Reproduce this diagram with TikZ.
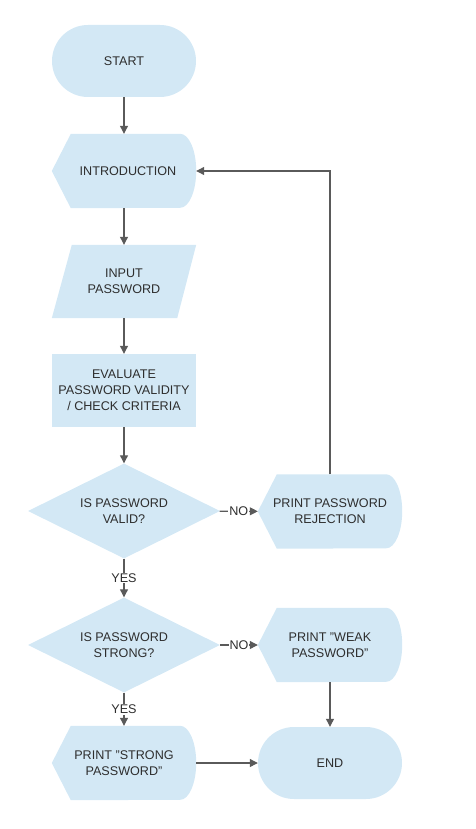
\documentclass[tikz,border=0pt]{standalone}
\usepackage{fontspec}
\setmainfont{Liberation Sans}
\usetikzlibrary{arrows.meta,shapes.geometric,backgrounds}
\definecolor{boxc}{HTML}{D3E8F5}
\definecolor{linec}{HTML}{5A5A5A}
\definecolor{textc}{HTML}{2E2E2E}

\tikzset{
  boxbase/.style={minimum width=144pt, minimum height=73pt, inner sep=0pt, align=center, text=textc},
  termbox/.style={boxbase, fill=boxc, rounded corners=36pt, minimum height=72pt},
  procbox/.style={boxbase, fill=boxc},
  dispbox/.style={boxbase, minimum height=74pt},
  iobox/.style={boxbase},
  decide/.style={diamond, aspect=2, fill=boxc, minimum width=192pt, minimum height=95pt, inner sep=0pt, align=center, text=textc},
  flow/.style={linec, line width=1.1pt, -{Triangle[length=8pt, width=8pt]}},
  lbl/.style={fill=white, inner sep=1pt, text=textc}
}

% display shape: pointed left side, round right side
\newcommand{\dispfill}[1]{%
  \fill[boxc] (#1.west) -- ([xshift=19pt]#1.north west) -- ([xshift=-16pt]#1.north east)
    arc[start angle=90, end angle=-90, x radius=16pt, y radius=37pt]
    -- ([xshift=19pt]#1.south west) -- cycle;}

\begin{document}
\begin{tikzpicture}[font=\fontsize{12.6}{16}\selectfont, x=1pt, y=1pt]
  \useasboundingbox (0,0) rectangle (476,-829);

  % main column
  \node[termbox] (start) at (124,-61) {START};
  \node[dispbox] (intro) at (124,-171) {\hspace*{8pt}INTRODUCTION};
  \node[iobox] (input) at (124,-281.5) {INPUT\\PASSWORD};
  \node[procbox] (evalc) at (124,-390.5) {EVALUATE\\PASSWORD VALIDITY\\/ CHECK CRITERIA};
  \node[decide] (valid) at (124,-511) {IS PASSWORD\\VALID?};
  \node[decide] (strong) at (124,-645) {IS PASSWORD\\STRONG?};
  \node[dispbox] (good) at (124,-763) {PRINT "STRONG\\PASSWORD"};

  % right column
  \node[dispbox] (reject) at (330,-511.5) {PRINT PASSWORD\\REJECTION};
  \node[dispbox] (weak) at (330,-645) {PRINT "WEAK\\PASSWORD"};
  \node[termbox] (stop) at (330,-763) {END};

  % shapes drawn by hand
  \begin{scope}[on background layer]
    \dispfill{intro}
    \dispfill{reject}
    \dispfill{weak}
    \dispfill{good}
    \fill[boxc] ([xshift=20pt]input.north west) -- (input.north east)
      -- ([xshift=-19pt]input.south east) -- (input.south west) -- cycle;
  \end{scope}

  % connectors
  \draw[flow] (start) -- (intro);
  \draw[flow] (intro) -- (input);
  \draw[flow] (input) -- (evalc);
  \draw[flow] (evalc) -- (valid);
  \draw[flow] (valid) -- node[lbl]{NO} (reject);
  \draw[flow] (valid) -- node[lbl]{YES} (strong);
  \draw[flow] (reject) |- (intro);
  \draw[flow] (strong) -- node[lbl]{NO} (weak);
  \draw[flow] (strong) -- node[lbl]{YES} (good);
  \draw[flow] (weak) -- (stop);
  \draw[flow] (good) -- (stop);
\end{tikzpicture}
\end{document}
